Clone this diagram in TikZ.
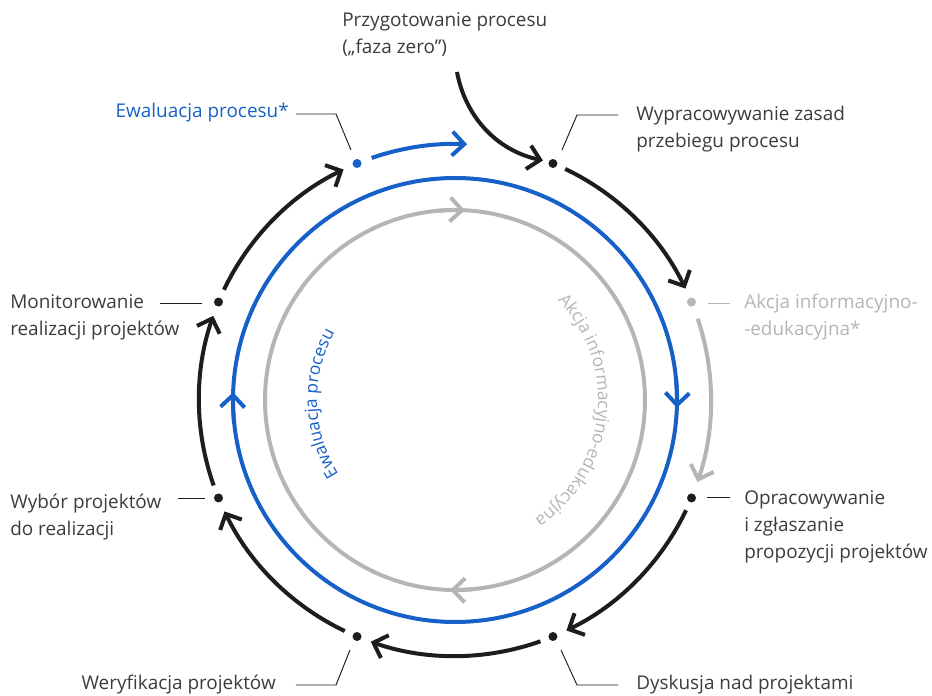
\documentclass[tikz,border=0pt]{standalone}
\usepackage{fontspec}
\setmainfont{Open Sans}
\usetikzlibrary{arrows.meta,decorations.text,calc}
\definecolor{ink}{HTML}{1D1D1B}
\definecolor{evblue}{HTML}{1660C8}
\definecolor{akgray}{HTML}{B5B5B8}
\definecolor{txt}{HTML}{3C3C3B}
\newcommand\labfont{\fontsize{14.2}{20.25}\selectfont}
\newcommand\curvfont{\fontsize{13}{15}\selectfont}
\begin{document}
\begin{tikzpicture}[x=0.75pt,y=0.75pt,
  ring/.style={line width=3pt},
  tip/.style={-{Straight Barb[length=9pt,width=18pt]}},
  dot/.style={circle,fill=ink,inner sep=0pt,minimum size=6.75pt},
  lead/.style={draw=ink,line width=0.7pt},
  lab/.style={inner sep=0pt,font=\labfont,text=txt,align=left}]
\useasboundingbox (-455,-296) rectangle (477,400);
% inner rings
\draw[ring,akgray] (0,0) circle[radius=190];
\draw[ring,evblue] (0,0) circle[radius=222];
\draw[ring,akgray,tip] (95:190) arc[start angle=95,end angle=87,radius=190];
\draw[ring,akgray,tip] (276:190) arc[start angle=276,end angle=268.5,radius=190];
\draw[ring,evblue,tip] (6:222) arc[start angle=6,end angle=-2,radius=222];
\draw[ring,evblue,tip] (186:222) arc[start angle=186,end angle=178,radius=222];
% curved texts
\path[decorate,decoration={text along path,text align=center,
  text={|\curvfont\color{evblue}|Ewaluacja procesu}}]
  (215:138) arc[start angle=215,end angle=148,radius=138];
\path[decorate,decoration={text along path,text align=center,
  text={|\curvfont\color{akgray}|Akcja informacyjno-edukacyjna}}]
  (50:143) arc[start angle=50,end angle=-62,radius=143];
% outer cycle
\draw[ring,ink,tip] (64.5:256) arc[start angle=64.5,end angle=25.8,radius=256];
\draw[ring,akgray,tip] (18.5:256) arc[start angle=18.5,end angle=-18.7,radius=256];
\draw[ring,ink,tip] (-25.5:256) arc[start angle=-25.5,end angle=-64.2,radius=256];
\draw[ring,ink,tip] (-70.5:256) arc[start angle=-70.5,end angle=-109.2,radius=256];
\draw[ring,ink,tip] (-115.5:256) arc[start angle=-115.5,end angle=-154.2,radius=256];
\draw[ring,ink,tip] (-160.5:256) arc[start angle=-160.5,end angle=-199.2,radius=256];
\draw[ring,ink,tip] (154.5:256) arc[start angle=154.5,end angle=115.8,radius=256];
\draw[ring,evblue,tip] (109:256) arc[start angle=109,end angle=87.3,radius=256];
% dots
\node[dot,fill=evblue] (dEw) at (112.5:256) {};
\node[dot] (dWy) at (67.5:256) {};
\node[dot,fill=akgray] (dAk) at (22.5:256) {};
\node[dot] (dOp) at (-22.5:256) {};
\node[dot] (dDy) at (-67.5:256) {};
\node[dot] (dWe) at (-112.5:256) {};
\node[dot] (dWb) at (-157.5:256) {};
\node[dot] (dMo) at (157.5:256) {};
% start label and incoming arrow
\node[lab,anchor=north west] (lPr) at (-113,388) {Przygotowanie procesu\\(„faza zero”)};
\coordinate (prStart) at (2,328);
\draw[ring,ink,tip] (prStart) .. controls (10,285) and (40,250) .. ($(dWy)+(-10,3)$);
% labels
\node[lab,anchor=mid east,text=evblue] (lEw) at (-166,286) {Ewaluacja procesu*};
\node[lab,anchor=north west] (lWy) at (181,294) {Wypracowywanie zasad\\przebiegu procesu};
\node[lab,anchor=north west,text=akgray] (lAk) at (289,106) {Akcja informacyjno-\\-edukacyjna*};
\node[lab,anchor=north west] (lOp) at (289,-90) {Opracowywanie\\i zgłaszanie\\propozycji projektów};
\node[lab,anchor=mid west] (lDy) at (181,-286) {Dyskusja nad projektami};
\node[lab,anchor=mid east] (lWe) at (-179,-286) {Weryfikacja projektów};
\node[lab,anchor=north west] (lWb) at (-445,-94) {Wybór projektów\\do realizacji};
\node[lab,anchor=north west] (lMo) at (-445,106) {Monitorowanie\\realizacji projektów};
% leader lines
\draw[lead] (-159,286) -- (-119,286) -- (-104,250);
\draw[lead] (107,250) -- (122,285) -- (163,285);
\draw[lead,draw=akgray] (253,97) -- (275,97);
\draw[lead] (252,-97) -- (275,-97);
\draw[lead] (106,-250) -- (122,-285) -- (163,-285);
\draw[lead] (-105,-250) -- (-119,-285) -- (-159,-285);
\draw[lead] (-277,-98) -- (-250,-98);
\draw[lead] (-295,97) -- (-253,97);
\end{tikzpicture}
\end{document}
